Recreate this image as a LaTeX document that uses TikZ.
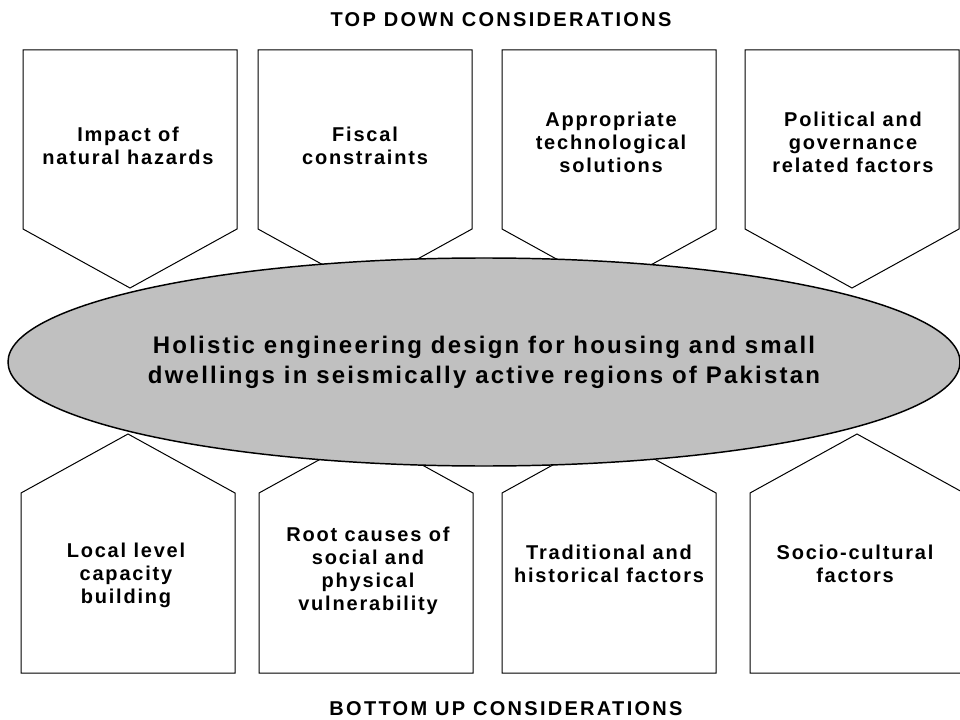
\documentclass[tikz,border=0pt]{standalone}
\usepackage{fontspec}
\setmainfont{Liberation Sans}
\usetikzlibrary{shapes.geometric}
\definecolor{hubgray}{RGB}{192,192,192}

\tikzset{
  pentabox/.style={draw=black, line width=0.75pt, fill=white, line join=miter},
  boxlabel/.style={align=center, inner sep=0pt,
    font=\fontsize{15}{17.25}\selectfont\bfseries\addfontfeatures{LetterSpace=9}},
  heading/.style={inner sep=0pt,
    font=\fontsize{15}{18}\selectfont\bfseries\addfontfeatures{LetterSpace=11.5}},
  hub/.style={ellipse, draw=black, line width=1.1pt, fill=hubgray, minimum width=714pt,
    minimum height=156pt, inner sep=0pt, align=center,
    font=\fontsize{18}{22.5}\selectfont\bfseries\addfontfeatures{LetterSpace=9.2}}
}

\begin{document}
\begin{tikzpicture}[x=0.75pt,y=-0.75pt]
\useasboundingbox (0,0) rectangle (960,720);

% top down arrows
\foreach \x in {23,258,502,745} {
  \draw[pentabox] (\x,50) -- ++(214,0) -- ++(0,179) -- ++(-107,59) -- ++(-107,-59) -- cycle;
}
% bottom up arrows
\foreach \x in {21,259,502,750} {
  \draw[pentabox] (\x,673) -- ++(214,0) -- ++(0,-180) -- ++(-107,-59) -- ++(-107,59) -- cycle;
}

\node[hub] (hub) at (484,362) {Holistic engineering design for housing and small\\dwellings in seismically active regions of Pakistan};

\node[heading] (topdown) at (501,20) {TOP DOWN CONSIDERATIONS};
\node[heading] (bottomup) at (506,709) {BOTTOM UP CONSIDERATIONS};

\node[boxlabel] (hazards) at (128,146) {Impact of\\natural hazards};
\node[boxlabel] (fiscal) at (365,146) {Fiscal\\constraints};
\node[boxlabel] (techsol) at (611,142) {Appropriate\\technological\\solutions};
\node[boxlabel] (politics) at (853,142) {Political and\\governance\\related factors};
\node[boxlabel] (capacity) at (126,575) {Local level\\capacity\\building};
\node[boxlabel] (rootcause) at (368,571) {Root causes of\\social and\\physical\\vulnerability};
\node[boxlabel] (tradition) at (609,564) {Traditional and\\historical factors};
\node[boxlabel] (sociocult) at (855,564) {Socio-cultural\\factors};
\end{tikzpicture}
\end{document}
